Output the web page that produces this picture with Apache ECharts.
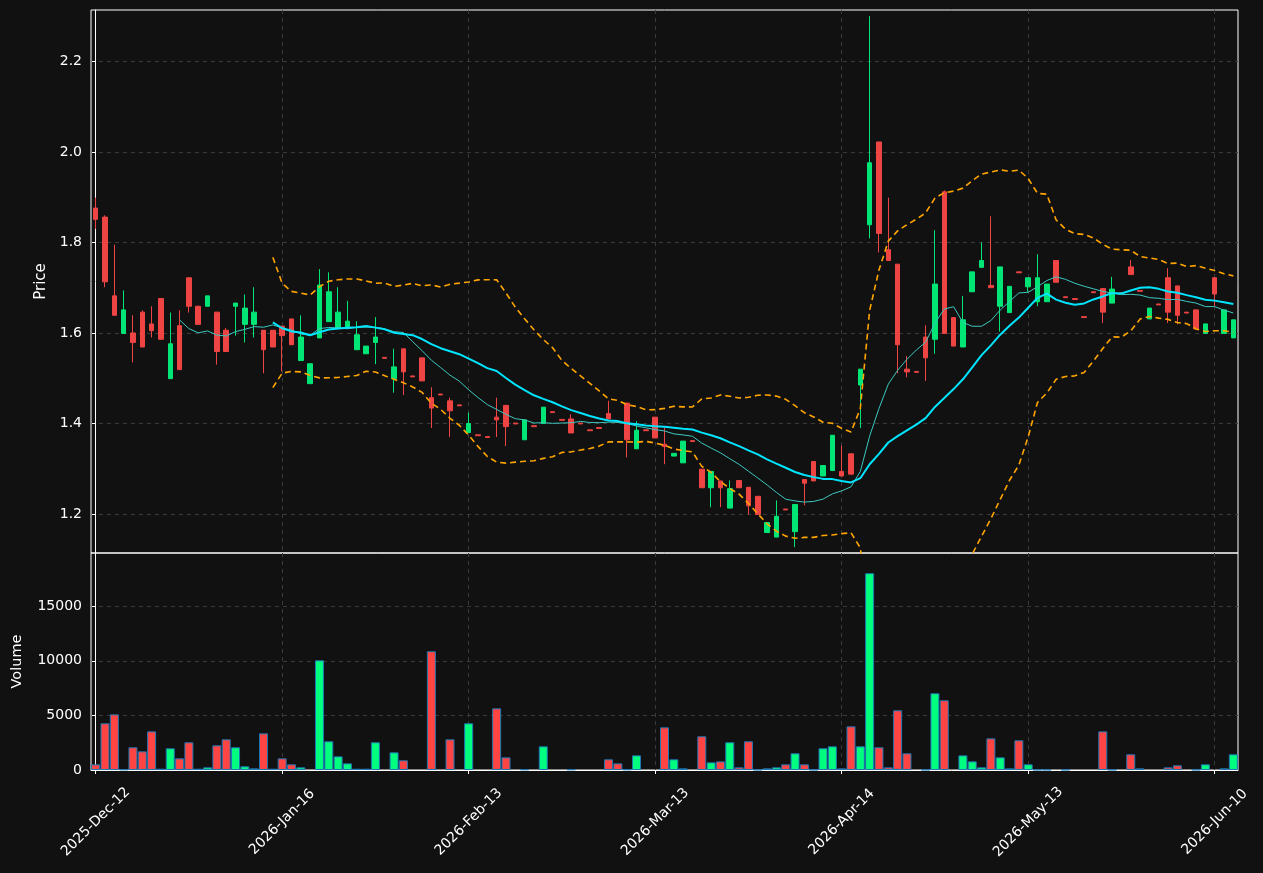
<!DOCTYPE html>
<html><head><meta charset="utf-8">
<script src="https://cdn.jsdelivr.net/npm/echarts@6/dist/echarts.min.js"></script>
<style>html,body{margin:0;padding:0;background:#111111;}#c{width:1263px;height:873px;}</style>
</head><body><div id="c"></div>
<script>
const tickLabels = ['2025-Dec-12','2026-Jan-16','2026-Feb-13','2026-Mar-13','2026-Apr-14','2026-May-13','2026-Jun-10'];
const tickStep = 20;
const opens = [1.876,1.856,1.682,1.599,1.600,1.646,1.620,1.676,1.499,1.616,
1.722,1.659,1.659,1.646,1.606,1.659,1.619,1.619,1.606,1.606,
1.615,1.631,1.539,1.488,1.589,1.625,1.612,1.612,1.563,1.554,
1.579,1.546,1.499,1.565,1.505,1.545,1.457,1.465,1.450,1.441,
1.380,1.375,1.371,1.414,1.440,1.401,1.364,1.395,1.400,1.426,
1.409,1.410,1.401,1.386,1.391,1.422,1.405,1.445,1.344,1.386,
1.414,1.354,1.328,1.313,1.362,1.299,1.258,1.273,1.213,1.274,
1.259,1.239,1.159,1.149,1.211,1.161,1.276,1.316,1.284,1.296,
1.294,1.333,1.485,1.839,2.022,1.784,1.752,1.520,1.515,1.591,
1.586,1.912,1.634,1.569,1.691,1.745,1.705,1.659,1.645,1.735,
1.702,1.669,1.669,1.760,1.680,1.676,1.636,1.691,1.698,1.666,
1.689,1.746,1.694,1.631,1.664,1.722,1.704,1.646,1.651,1.599,
1.722,1.599,1.589];
const closes = [1.851,1.713,1.639,1.651,1.579,1.569,1.605,1.586,1.576,1.519,
1.659,1.619,1.682,1.559,1.559,1.666,1.655,1.646,1.563,1.569,
1.594,1.574,1.591,1.532,1.706,1.691,1.646,1.626,1.596,1.571,
1.591,1.544,1.525,1.514,1.503,1.494,1.434,1.463,1.428,1.439,
1.400,1.373,1.369,1.408,1.393,1.399,1.408,1.393,1.436,1.424,
1.407,1.379,1.399,1.384,1.389,1.410,1.403,1.364,1.385,1.384,
1.368,1.349,1.334,1.361,1.360,1.258,1.294,1.258,1.256,1.258,
1.218,1.199,1.181,1.195,1.209,1.221,1.268,1.273,1.307,1.374,
1.284,1.288,1.520,1.976,1.820,1.760,1.574,1.514,1.513,1.545,
1.708,1.599,1.571,1.629,1.735,1.760,1.700,1.746,1.703,1.733,
1.722,1.722,1.708,1.712,1.678,1.674,1.634,1.689,1.646,1.697,
1.687,1.729,1.692,1.655,1.662,1.646,1.639,1.644,1.609,1.620,
1.686,1.651,1.629];
const lows = [1.830,1.701,1.639,1.599,1.535,1.569,1.590,1.586,1.499,1.519,
1.645,1.619,1.659,1.530,1.559,1.594,1.579,1.590,1.511,1.569,
1.515,1.574,1.539,1.488,1.589,1.625,1.612,1.612,1.563,1.554,
1.531,1.544,1.468,1.463,1.503,1.494,1.390,1.463,1.370,1.439,
1.380,1.373,1.369,1.370,1.350,1.399,1.364,1.393,1.400,1.424,
1.407,1.379,1.399,1.384,1.389,1.410,1.403,1.325,1.344,1.384,
1.368,1.310,1.328,1.313,1.360,1.258,1.215,1.215,1.213,1.258,
1.199,1.199,1.159,1.149,1.209,1.127,1.219,1.273,1.284,1.296,
1.284,1.288,1.390,1.809,1.778,1.760,1.511,1.502,1.513,1.494,
1.554,1.599,1.571,1.569,1.691,1.745,1.700,1.603,1.645,1.733,
1.691,1.659,1.669,1.712,1.678,1.674,1.634,1.689,1.622,1.666,
1.687,1.729,1.692,1.631,1.662,1.622,1.619,1.644,1.609,1.599,
1.659,1.599,1.589];
const highs = [1.899,1.860,1.795,1.694,1.639,1.650,1.659,1.676,1.645,1.650,
1.722,1.659,1.682,1.646,1.611,1.666,1.685,1.701,1.606,1.606,
1.615,1.631,1.639,1.532,1.741,1.734,1.701,1.671,1.626,1.571,
1.635,1.546,1.565,1.565,1.505,1.545,1.480,1.465,1.457,1.441,
1.424,1.375,1.371,1.457,1.440,1.401,1.408,1.395,1.436,1.426,
1.409,1.420,1.401,1.386,1.391,1.450,1.405,1.445,1.405,1.386,
1.414,1.390,1.334,1.361,1.362,1.299,1.294,1.273,1.274,1.274,
1.259,1.239,1.181,1.230,1.211,1.221,1.276,1.316,1.307,1.374,
1.351,1.333,1.520,2.300,2.022,1.899,1.752,1.549,1.515,1.617,
1.827,1.915,1.634,1.682,1.735,1.800,1.858,1.746,1.703,1.735,
1.722,1.774,1.708,1.760,1.680,1.676,1.636,1.691,1.698,1.724,
1.689,1.761,1.694,1.655,1.664,1.743,1.704,1.646,1.651,1.620,
1.722,1.651,1.629];
const volumes = [520,4280,5100,60,2080,1710,3540,120,1990,1070,
2540,120,245,2260,2810,2080,340,150,3360,120,
1070,520,245,0,10050,2630,1250,610,120,120,
2540,0,1620,890,0,0,10880,0,2810,0,
4280,0,0,5650,1160,0,60,0,2170,0,
0,60,0,0,0,980,610,60,1340,0,
0,3910,980,150,0,3090,700,790,2540,245,
2630,30,150,245,520,1530,520,30,1990,2170,
150,4000,2170,18030,2080,245,5470,1530,0,30,
7030,6390,0,1340,790,245,2900,1160,150,2720,
520,30,30,0,30,0,0,0,3540,30,
0,1440,150,0,0,245,430,0,30,520,
0,150,1440];

const UP = '#00e676', DOWN = '#ee4444';
const VUP = '#00ff7f', VDOWN = '#ff4444';
const n = closes.length;

function sma(p){ const out=[]; for(let i=p-1;i<n;i++){ let s=0; for(let j=i-p+1;j<=i;j++) s+=closes[j]; out.push([i, s/p]); } return out; }
function bands(p,k){ const up=[],lo=[]; for(let i=p-1;i<n;i++){ let s=0; for(let j=i-p+1;j<=i;j++) s+=closes[j]; const m=s/p; let v=0; for(let j=i-p+1;j<=i;j++) v+=(closes[j]-m)*(closes[j]-m); const sd=Math.sqrt(v/p); up.push([i,m+k*sd]); lo.push([i,m-k*sd]); } return [up,lo]; }

const candleData = closes.map((c,i)=>[i, opens[i], c, lows[i], highs[i]]);
const volData = volumes.map((v,i)=>({value:[i,v], itemStyle:{color: closes[i]>opens[i]?VUP:VDOWN, borderWidth: v>0?1:0}}));
const ma10 = sma(10), ma20 = sma(20);
const [bbUp, bbLo] = bands(20,2);

const FONT = 'DejaVu Sans';
const gridLine = {show:true, showMinLine:false, showMaxLine:false, lineStyle:{color:'#3a3a3a', type:[4,4], width:1}};
const xFmt = v => { const k = Math.round(v/tickStep); return (Math.abs(v-k*tickStep)<1e-6 && k>=0 && k<tickLabels.length) ? tickLabels[k] : ''; };

const chart = echarts.init(document.getElementById('c'), null, {renderer:'canvas'});
chart.setOption({
  backgroundColor:'#111111',
  animation:false,
  grid:[
    {left:91, top:10, width:1147, height:543, show:true, borderColor:'#ffffff', borderWidth:1, backgroundColor:'transparent'},
    {left:91, top:553, width:1147, height:217, show:true, borderColor:'#ffffff', borderWidth:1, backgroundColor:'transparent'}
  ],
  xAxis:[
    {type:'value', gridIndex:0, min:-0.5, max:n-0.5, minInterval:tickStep, maxInterval:tickStep,
     axisLine:{show:false}, axisTick:{show:false}, axisLabel:{show:false}, splitLine:gridLine},
    {type:'value', gridIndex:1, min:-0.5, max:n-0.5, minInterval:tickStep, maxInterval:tickStep,
     axisLine:{show:true, lineStyle:{color:'#ffffff'}}, axisTick:{show:true, length:4, lineStyle:{color:'#ffffff'}},
     axisLabel:{show:true, showMinLabel:false, showMaxLabel:false, formatter:xFmt, rotate:45, align:'center', verticalAlign:'middle', margin:52, color:'#ffffff', fontSize:14, fontFamily:FONT},
     splitLine:gridLine}
  ],
  yAxis:[
    {type:'value', gridIndex:0, min:1.1138, max:2.3136, minInterval:0.2, maxInterval:0.2, name:'Price', nameLocation:'middle', nameGap:41,
     nameTextStyle:{color:'#ffffff', fontSize:15, fontFamily:FONT},
     axisLine:{show:true, lineStyle:{color:'#ffffff'}}, axisTick:{show:true, length:4, lineStyle:{color:'#ffffff'}},
     axisLabel:{showMinLabel:false, showMaxLabel:false, formatter:v=>v.toFixed(1), color:'#ffffff', fontSize:14, fontFamily:FONT, margin:9},
     splitLine:gridLine},
    {type:'value', gridIndex:1, min:0, max:19880, interval:5000, name:'Volume', nameLocation:'middle', nameGap:66,
     nameTextStyle:{color:'#ffffff', fontSize:14.5, fontFamily:FONT},
     axisLine:{show:true, lineStyle:{color:'#ffffff'}}, axisTick:{show:true, length:4, lineStyle:{color:'#ffffff'}},
     axisLabel:{showMaxLabel:false, formatter:v=>String(Math.round(v)), color:'#ffffff', fontSize:14, fontFamily:FONT, margin:9},
     splitLine:gridLine}
  ],
  series:[
    {type:'candlestick', xAxisIndex:0, yAxisIndex:0, data:candleData, encode:{x:0, y:[1,2,3,4]}, barWidth:5,
     itemStyle:{color:UP, color0:DOWN, borderColor:UP, borderColor0:DOWN, borderWidth:1}, z:2},
    {type:'bar', xAxisIndex:1, yAxisIndex:1, data:volData, barWidth:9, itemStyle:{borderColor:'#1f77b4', borderWidth:1}, z:2},
    {type:'line', xAxisIndex:0, yAxisIndex:0, data:ma10, symbol:'none', lineStyle:{color:'#3cc8c0', width:1}, z:3},
    {type:'line', xAxisIndex:0, yAxisIndex:0, data:ma20, symbol:'none', lineStyle:{color:'#00e5ff', width:2}, z:3},
    {type:'line', xAxisIndex:0, yAxisIndex:0, data:bbUp, symbol:'none', lineStyle:{color:'#ffa500', width:1.6, type:[6,4]}, z:3},
    {type:'line', xAxisIndex:0, yAxisIndex:0, data:bbLo, symbol:'none', lineStyle:{color:'#ffa500', width:1.6, type:[6,4]}, z:3}
  ]
});
</script></body></html>
